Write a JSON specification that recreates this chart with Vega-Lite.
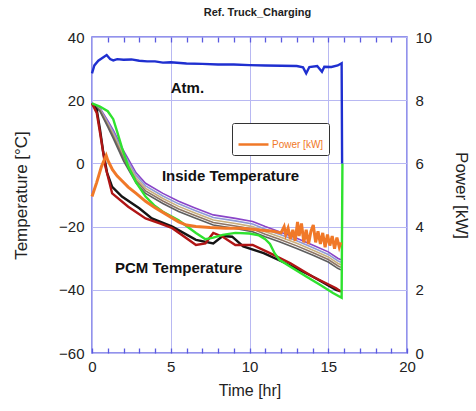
{
  "$schema": "https://vega.github.io/schema/vega-lite/v6.json",
  "width": 315,
  "height": 316,
  "autosize": {"type": "none"},
  "padding": {"left": 92, "top": 37, "right": 69, "bottom": 58},
  "background": "white",
  "title": {"text": "Ref. Truck_Charging", "fontSize": 11, "fontWeight": "bold", "font": "Liberation Sans", "color": "#222", "anchor": "middle", "dx": 8, "offset": 12},
  "config": {"font": "Liberation Sans", "view": {"stroke": "#6f6fe6", "strokeWidth": 1.5}},
  "datasets": {
    "temps": [
      {"t": 0, "T": 19, "s": "In1"}, {"t": 0.5, "T": 17.5, "s": "In1"}, {"t": 1.0, "T": 13.5, "s": "In1"}, {"t": 1.35, "T": 10.5, "s": "In1"}, {"t": 2.0, "T": 4, "s": "In1"}, {"t": 2.8, "T": -3, "s": "In1"}, {"t": 3.4, "T": -6.3, "s": "In1"}, {"t": 4.5, "T": -9.5, "s": "In1"}, {"t": 5.5, "T": -12, "s": "In1"}, {"t": 6.5, "T": -14, "s": "In1"}, {"t": 7.7, "T": -16.3, "s": "In1"}, {"t": 9.1, "T": -17.4, "s": "In1"}, {"t": 10.2, "T": -18.4, "s": "In1"}, {"t": 11.0, "T": -20, "s": "In1"}, {"t": 11.9, "T": -21.6, "s": "In1"}, {"t": 13.0, "T": -23.7, "s": "In1"}, {"t": 14.0, "T": -25.8, "s": "In1"}, {"t": 15.0, "T": -28, "s": "In1"}, {"t": 15.6, "T": -30, "s": "In1"}, {"t": 15.8, "T": -30.5, "s": "In1"},
      {"t": 0, "T": 19, "s": "In2"}, {"t": 0.5, "T": 17.26, "s": "In2"}, {"t": 1.0, "T": 13.02, "s": "In2"}, {"t": 1.35, "T": 9.86, "s": "In2"}, {"t": 2.0, "T": 3.2, "s": "In2"}, {"t": 2.8, "T": -3.8, "s": "In2"}, {"t": 3.4, "T": -7.1, "s": "In2"}, {"t": 4.5, "T": -10.3, "s": "In2"}, {"t": 5.5, "T": -12.8, "s": "In2"}, {"t": 6.5, "T": -14.8, "s": "In2"}, {"t": 7.7, "T": -17.1, "s": "In2"}, {"t": 9.1, "T": -18.2, "s": "In2"}, {"t": 10.2, "T": -19.2, "s": "In2"}, {"t": 11.0, "T": -20.8, "s": "In2"}, {"t": 11.9, "T": -22.4, "s": "In2"}, {"t": 13.0, "T": -24.5, "s": "In2"}, {"t": 14.0, "T": -26.6, "s": "In2"}, {"t": 15.0, "T": -28.8, "s": "In2"}, {"t": 15.6, "T": -30.8, "s": "In2"}, {"t": 15.8, "T": -31.3, "s": "In2"},
      {"t": 0, "T": 19, "s": "In3"}, {"t": 0.5, "T": 17.02, "s": "In3"}, {"t": 1.0, "T": 12.54, "s": "In3"}, {"t": 1.35, "T": 9.22, "s": "In3"}, {"t": 2.0, "T": 2.4, "s": "In3"}, {"t": 2.8, "T": -4.6, "s": "In3"}, {"t": 3.4, "T": -7.9, "s": "In3"}, {"t": 4.5, "T": -11.1, "s": "In3"}, {"t": 5.5, "T": -13.6, "s": "In3"}, {"t": 6.5, "T": -15.6, "s": "In3"}, {"t": 7.7, "T": -17.9, "s": "In3"}, {"t": 9.1, "T": -19.0, "s": "In3"}, {"t": 10.2, "T": -20.0, "s": "In3"}, {"t": 11.0, "T": -21.6, "s": "In3"}, {"t": 11.9, "T": -23.2, "s": "In3"}, {"t": 13.0, "T": -25.3, "s": "In3"}, {"t": 14.0, "T": -27.4, "s": "In3"}, {"t": 15.0, "T": -29.6, "s": "In3"}, {"t": 15.6, "T": -31.6, "s": "In3"}, {"t": 15.8, "T": -32.1, "s": "In3"},
      {"t": 0, "T": 19, "s": "In4"}, {"t": 0.5, "T": 16.78, "s": "In4"}, {"t": 1.0, "T": 12.06, "s": "In4"}, {"t": 1.35, "T": 8.58, "s": "In4"}, {"t": 2.0, "T": 1.6, "s": "In4"}, {"t": 2.8, "T": -5.4, "s": "In4"}, {"t": 3.4, "T": -8.7, "s": "In4"}, {"t": 4.5, "T": -11.9, "s": "In4"}, {"t": 5.5, "T": -14.4, "s": "In4"}, {"t": 6.5, "T": -16.4, "s": "In4"}, {"t": 7.7, "T": -18.7, "s": "In4"}, {"t": 9.1, "T": -19.8, "s": "In4"}, {"t": 10.2, "T": -20.8, "s": "In4"}, {"t": 11.0, "T": -22.4, "s": "In4"}, {"t": 11.9, "T": -24.0, "s": "In4"}, {"t": 13.0, "T": -26.1, "s": "In4"}, {"t": 14.0, "T": -28.2, "s": "In4"}, {"t": 15.0, "T": -30.4, "s": "In4"}, {"t": 15.6, "T": -32.4, "s": "In4"}, {"t": 15.8, "T": -32.9, "s": "In4"},
      {"t": 0, "T": 19, "s": "In5"}, {"t": 0.5, "T": 16.54, "s": "In5"}, {"t": 1.0, "T": 11.58, "s": "In5"}, {"t": 1.35, "T": 7.94, "s": "In5"}, {"t": 2.0, "T": 0.8, "s": "In5"}, {"t": 2.8, "T": -6.2, "s": "In5"}, {"t": 3.4, "T": -9.5, "s": "In5"}, {"t": 4.5, "T": -12.7, "s": "In5"}, {"t": 5.5, "T": -15.2, "s": "In5"}, {"t": 6.5, "T": -17.2, "s": "In5"}, {"t": 7.7, "T": -19.5, "s": "In5"}, {"t": 9.1, "T": -20.6, "s": "In5"}, {"t": 10.2, "T": -21.6, "s": "In5"}, {"t": 11.0, "T": -23.2, "s": "In5"}, {"t": 11.9, "T": -24.8, "s": "In5"}, {"t": 13.0, "T": -26.9, "s": "In5"}, {"t": 14.0, "T": -29.0, "s": "In5"}, {"t": 15.0, "T": -31.2, "s": "In5"}, {"t": 15.6, "T": -33.2, "s": "In5"}, {"t": 15.8, "T": -33.7, "s": "In5"},
      {"t": 0, "T": 19, "s": "PCM1"}, {"t": 0.3, "T": 17, "s": "PCM1"}, {"t": 0.5, "T": 11, "s": "PCM1"}, {"t": 0.7, "T": 4, "s": "PCM1"}, {"t": 0.96, "T": -3, "s": "PCM1"}, {"t": 1.28, "T": -7.4, "s": "PCM1"}, {"t": 1.9, "T": -10.5, "s": "PCM1"}, {"t": 3.0, "T": -14.2, "s": "PCM1"}, {"t": 3.8, "T": -17.4, "s": "PCM1"}, {"t": 5.1, "T": -20, "s": "PCM1"}, {"t": 6.6, "T": -24.2, "s": "PCM1"}, {"t": 7.7, "T": -25.3, "s": "PCM1"}, {"t": 8.3, "T": -23, "s": "PCM1"}, {"t": 8.9, "T": -23.2, "s": "PCM1"}, {"t": 9.6, "T": -26.3, "s": "PCM1"}, {"t": 10.9, "T": -28.4, "s": "PCM1"}, {"t": 12.3, "T": -31.6, "s": "PCM1"}, {"t": 14.0, "T": -35.8, "s": "PCM1"}, {"t": 15.5, "T": -40, "s": "PCM1"}, {"t": 15.8, "T": -40.5, "s": "PCM1"},
      {"t": 0, "T": 19, "s": "PCM2"}, {"t": 0.3, "T": 16, "s": "PCM2"}, {"t": 0.5, "T": 10, "s": "PCM2"}, {"t": 0.85, "T": -1, "s": "PCM2"}, {"t": 1.28, "T": -9.5, "s": "PCM2"}, {"t": 2.3, "T": -13.7, "s": "PCM2"}, {"t": 3.4, "T": -17.4, "s": "PCM2"}, {"t": 4.3, "T": -19, "s": "PCM2"}, {"t": 5.1, "T": -20.5, "s": "PCM2"}, {"t": 6.6, "T": -25.8, "s": "PCM2"}, {"t": 7.2, "T": -25.3, "s": "PCM2"}, {"t": 7.7, "T": -22, "s": "PCM2"}, {"t": 8.3, "T": -23.2, "s": "PCM2"}, {"t": 9.1, "T": -25.8, "s": "PCM2"}, {"t": 10.2, "T": -25.8, "s": "PCM2"}, {"t": 11.3, "T": -28.4, "s": "PCM2"}, {"t": 12.6, "T": -31.6, "s": "PCM2"}, {"t": 14.0, "T": -35.8, "s": "PCM2"}, {"t": 15.5, "T": -39.5, "s": "PCM2"}, {"t": 15.8, "T": -40.5, "s": "PCM2"},
      {"t": 0, "T": 19, "s": "PCM3"}, {"t": 0.5, "T": 18, "s": "PCM3"}, {"t": 1.0, "T": 16.5, "s": "PCM3"}, {"t": 1.35, "T": 14, "s": "PCM3"}, {"t": 1.6, "T": 10, "s": "PCM3"}, {"t": 1.9, "T": 5, "s": "PCM3"}, {"t": 2.3, "T": -1, "s": "PCM3"}, {"t": 2.8, "T": -6, "s": "PCM3"}, {"t": 3.4, "T": -10.5, "s": "PCM3"}, {"t": 4.0, "T": -13.5, "s": "PCM3"}, {"t": 4.5, "T": -15.3, "s": "PCM3"}, {"t": 5.5, "T": -18, "s": "PCM3"}, {"t": 6.6, "T": -22, "s": "PCM3"}, {"t": 7.2, "T": -24, "s": "PCM3"}, {"t": 7.7, "T": -23.5, "s": "PCM3"}, {"t": 8.3, "T": -22.6, "s": "PCM3"}, {"t": 9.1, "T": -22, "s": "PCM3"}, {"t": 10.0, "T": -22.2, "s": "PCM3"}, {"t": 10.6, "T": -22.8, "s": "PCM3"}, {"t": 11.0, "T": -24, "s": "PCM3"}, {"t": 11.3, "T": -25.5, "s": "PCM3"}, {"t": 11.6, "T": -28.5, "s": "PCM3"}, {"t": 11.9, "T": -30.5, "s": "PCM3"}, {"t": 12.7, "T": -33, "s": "PCM3"}, {"t": 13.6, "T": -35.8, "s": "PCM3"}, {"t": 14.5, "T": -38.5, "s": "PCM3"}, {"t": 15.3, "T": -41, "s": "PCM3"}, {"t": 15.85, "T": -42.5, "s": "PCM3"}, {"t": 15.9, "T": 0, "s": "PCM3"},
      {"t": 0, "T": 28.5, "s": "Atm"}, {"t": 0.15, "T": 31, "s": "Atm"}, {"t": 0.4, "T": 32.5, "s": "Atm"}, {"t": 0.7, "T": 33.5, "s": "Atm"}, {"t": 0.93, "T": 34.3, "s": "Atm"}, {"t": 1.15, "T": 33, "s": "Atm"}, {"t": 1.35, "T": 32.6, "s": "Atm"}, {"t": 1.6, "T": 33, "s": "Atm"}, {"t": 2.0, "T": 32.8, "s": "Atm"}, {"t": 2.5, "T": 32.9, "s": "Atm"}, {"t": 3.0, "T": 32.5, "s": "Atm"}, {"t": 3.5, "T": 32.3, "s": "Atm"}, {"t": 4.0, "T": 32.3, "s": "Atm"}, {"t": 4.5, "T": 31.9, "s": "Atm"}, {"t": 5.0, "T": 32.0, "s": "Atm"}, {"t": 6.0, "T": 31.6, "s": "Atm"}, {"t": 7.0, "T": 31.5, "s": "Atm"}, {"t": 8.0, "T": 31.3, "s": "Atm"}, {"t": 9.0, "T": 31.3, "s": "Atm"}, {"t": 10.0, "T": 31.1, "s": "Atm"}, {"t": 11.0, "T": 31.0, "s": "Atm"}, {"t": 12.0, "T": 30.9, "s": "Atm"}, {"t": 13.0, "T": 30.8, "s": "Atm"}, {"t": 13.4, "T": 30.4, "s": "Atm"}, {"t": 13.6, "T": 28.5, "s": "Atm"}, {"t": 13.8, "T": 30.5, "s": "Atm"}, {"t": 14.3, "T": 30.8, "s": "Atm"}, {"t": 14.6, "T": 29, "s": "Atm"}, {"t": 14.75, "T": 30.6, "s": "Atm"}, {"t": 15.2, "T": 30.5, "s": "Atm"}, {"t": 15.6, "T": 31, "s": "Atm"}, {"t": 15.85, "T": 31.7, "s": "Atm"}, {"t": 15.88, "T": 0, "s": "Atm"}
    ],
    "power": [
      {"t": 0, "P": 4.95, "s": "Power [kW]"}, {"t": 0.3, "P": 5.4, "s": "Power [kW]"}, {"t": 0.6, "P": 5.9, "s": "Power [kW]"}, {"t": 0.9, "P": 6.25, "s": "Power [kW]"}, {"t": 1.0, "P": 6.1, "s": "Power [kW]"}, {"t": 1.3, "P": 5.8, "s": "Power [kW]"}, {"t": 1.6, "P": 5.6, "s": "Power [kW]"}, {"t": 1.9, "P": 5.45, "s": "Power [kW]"}, {"t": 2.3, "P": 5.25, "s": "Power [kW]"}, {"t": 2.8, "P": 5.05, "s": "Power [kW]"}, {"t": 3.4, "P": 4.8, "s": "Power [kW]"}, {"t": 4.0, "P": 4.6, "s": "Power [kW]"}, {"t": 4.5, "P": 4.45, "s": "Power [kW]"}, {"t": 5.0, "P": 4.3, "s": "Power [kW]"}, {"t": 5.5, "P": 4.15, "s": "Power [kW]"}, {"t": 6.0, "P": 4.05, "s": "Power [kW]"}, {"t": 6.6, "P": 4.0, "s": "Power [kW]"}, {"t": 7.5, "P": 3.97, "s": "Power [kW]"}, {"t": 8.5, "P": 3.95, "s": "Power [kW]"}, {"t": 9.5, "P": 3.95, "s": "Power [kW]"}, {"t": 10.5, "P": 3.9, "s": "Power [kW]"}, {"t": 11.0, "P": 3.88, "s": "Power [kW]"}, {"t": 11.5, "P": 3.85, "s": "Power [kW]"}, {"t": 12.0, "P": 3.8, "s": "Power [kW]"}, {"t": 12.2, "P": 4.0, "s": "Power [kW]"}, {"t": 12.3, "P": 3.75, "s": "Power [kW]"}, {"t": 12.45, "P": 3.95, "s": "Power [kW]"}, {"t": 12.6, "P": 3.6, "s": "Power [kW]"}, {"t": 12.75, "P": 3.9, "s": "Power [kW]"}, {"t": 12.9, "P": 3.55, "s": "Power [kW]"}, {"t": 13.05, "P": 4.15, "s": "Power [kW]"}, {"t": 13.15, "P": 3.7, "s": "Power [kW]"}, {"t": 13.3, "P": 4.1, "s": "Power [kW]"}, {"t": 13.45, "P": 3.5, "s": "Power [kW]"}, {"t": 13.6, "P": 3.9, "s": "Power [kW]"}, {"t": 13.75, "P": 3.45, "s": "Power [kW]"}, {"t": 13.9, "P": 3.85, "s": "Power [kW]"}, {"t": 14.05, "P": 4.05, "s": "Power [kW]"}, {"t": 14.2, "P": 3.5, "s": "Power [kW]"}, {"t": 14.35, "P": 3.85, "s": "Power [kW]"}, {"t": 14.5, "P": 3.45, "s": "Power [kW]"}, {"t": 14.65, "P": 3.8, "s": "Power [kW]"}, {"t": 14.8, "P": 3.35, "s": "Power [kW]"}, {"t": 14.95, "P": 3.75, "s": "Power [kW]"}, {"t": 15.1, "P": 3.4, "s": "Power [kW]"}, {"t": 15.25, "P": 3.7, "s": "Power [kW]"}, {"t": 15.4, "P": 3.3, "s": "Power [kW]"}, {"t": 15.55, "P": 3.65, "s": "Power [kW]"}, {"t": 15.7, "P": 3.35, "s": "Power [kW]"}, {"t": 15.8, "P": 3.5, "s": "Power [kW]"}
    ],
    "labels": [
      {"t": 5.0, "T": 23.9, "label": "Atm."},
      {"t": 4.44, "T": -4.0, "label": "Inside Temperature"},
      {"t": 1.46, "T": -33.1, "label": "PCM Temperature"}
    ]
  },
  "layer": [
    {
      "data": {"name": "temps"},
      "mark": {"type": "line"},
      "encoding": {
        "x": {"field": "t", "type": "quantitative", "scale": {"domain": [0, 20], "nice": false},
          "axis": {"orient": "bottom", "values": [0,1,2,3,4,5,6,7,8,9,10,11,12,13,14,15,16,17,18,19,20], "labelExpr": "datum.value % 5 === 0 ? datum.label : ''", "title": "Time [hr]", "titleFontSize": 16, "titleFontWeight": "normal", "titleColor": "#222", "titlePadding": 8, "labelFontSize": 15, "labelColor": "#222", "labelPadding": 6, "ticks": true, "tickSize": 5, "tickWidth": 1.3, "tickColor": "#5a5ae0", "offset": -5, "grid": true, "gridColor": "#b8b8f2", "gridWidth": 1, "gridOpacity": {"condition": {"test": "datum.value % 5 === 0", "value": 1}, "value": 0}, "domain": false, "labelFlush": false}},
        "y": {"field": "T", "type": "quantitative", "scale": {"domain": [-60, 40], "nice": false},
          "axis": {"orient": "left", "values": [-60, -40, -20, 0, 20, 40], "title": "Temperature [°C]", "titleFontSize": 17, "titleFontWeight": "normal", "titleColor": "#222", "titlePadding": 28, "labelFontSize": 15, "labelColor": "#222", "labelPadding": 8, "ticks": false, "grid": true, "gridColor": "#b8b8f2", "gridWidth": 1, "domain": false, "labelFlush": false}},
        "stroke": {"field": "s", "type": "nominal", "legend": null,
          "scale": {"domain": ["In1", "In2", "In3", "In4", "In5", "PCM1", "PCM2", "PCM3", "Atm"],
                    "range": ["#8a45c8", "#8f9ad6", "#c9b07e", "#8c7464", "#5e5e5e", "#151515", "#b01515", "#2fe22f", "#1f2fd0"]}},
        "strokeWidth": {"condition": {"test": "indexof(['In1','In2','In3','In4','In5'], datum.s) >= 0", "value": 1.6}, "value": 2.4}
      }
    },
    {
      "data": {"name": "power"},
      "mark": {"type": "line", "strokeWidth": 3},
      "encoding": {
        "x": {"field": "t", "type": "quantitative", "scale": {"domain": [0, 20], "nice": false},
          "axis": {"orient": "top", "values": [1,2,3,4,5,6,7,8,9,10,11,12,13,14,15,16,17,18,19], "labels": false, "title": null, "grid": false, "ticks": true, "tickSize": 5, "tickWidth": 1.3, "offset": -5, "tickColor": "#5a5ae0", "domain": false}},
        "y": {"field": "P", "type": "quantitative", "scale": {"domain": [0, 10], "nice": false},
          "axis": {"orient": "right", "values": [0, 2, 4, 6, 8, 10], "title": "Power [kW]", "titleAngle": 90, "titleFontSize": 17, "titleFontWeight": "normal", "titleColor": "#222", "titlePadding": 20, "labelFontSize": 15, "labelColor": "#222", "labelPadding": 8, "ticks": false, "grid": false, "domain": false, "labelFlush": false}},
        "color": {"field": "s", "type": "nominal",
          "scale": {"domain": ["Power [kW]"], "range": ["#f07828"]},
          "legend": {"title": null, "orient": "none", "legendX": 140, "legendY": 86, "symbolType": "stroke", "symbolSize": 900, "symbolStrokeWidth": 2.5, "labelColor": "#f07828", "labelFontSize": 10, "labelOffset": 2, "padding": 5, "strokeColor": "#333", "fillColor": "white", "cornerRadius": 2}}
      }
    },
    {
      "data": {"name": "labels"},
      "mark": {"type": "text", "align": "left", "baseline": "middle", "fontSize": 15, "fontWeight": "bold", "color": "#111"},
      "encoding": {
        "x": {"field": "t", "type": "quantitative", "scale": {"domain": [0, 20], "nice": false}, "axis": null},
        "y": {"field": "T", "type": "quantitative", "scale": {"domain": [-60, 40], "nice": false}, "axis": null},
        "text": {"field": "label"}
      }
    }
  ],
  "resolve": {"scale": {"y": "independent"}, "axis": {"x": "independent", "y": "independent"}}
}
